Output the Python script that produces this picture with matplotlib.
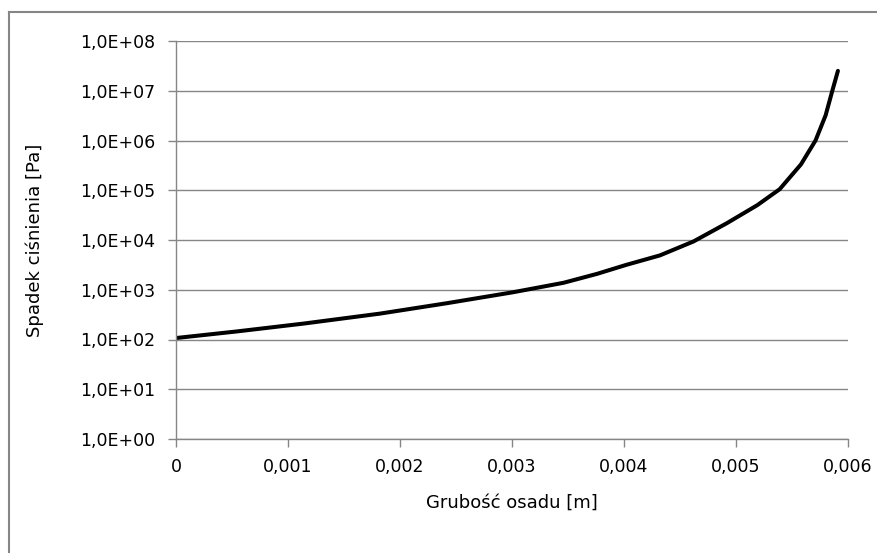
import numpy as np
import matplotlib
matplotlib.use("Agg")
import matplotlib.pyplot as plt
from matplotlib.ticker import FixedLocator, FuncFormatter
from matplotlib.lines import Line2D

plt.rcParams['font.family'] = ['DejaVu Sans']

# data
thickness = [0, 0.00054, 0.00114, 0.00182, 0.00242, 0.00301, 0.00346, 0.00376,
             0.00402, 0.00432, 0.00462, 0.00492, 0.00519, 0.00539, 0.00558,
             0.00571, 0.0058, 0.00586, 0.00591]
pressure_drop = [107, 145, 209, 331, 537, 891, 1380, 2089,
                 3162, 4898, 9333, 21880, 50120, 1.05e5, 3.31e5,
                 1.0e6, 3.2e6, 1.0e7, 2.51e7]

x_ticks = [0, 0.001, 0.002, 0.003, 0.004, 0.005, 0.006]
x_tick_labels = ['0', '0,001', '0,002', '0,003', '0,004', '0,005', '0,006']
y_ticks = [10.0 ** k for k in range(0, 9)]

grey = '#868686'

fig = plt.figure(figsize=(8.77, 5.53), dpi=100)
ax = fig.add_axes([176 / 877, 1 - 439 / 553, 672 / 877, 398 / 553])

ax.plot(thickness, pressure_drop, color='black', linewidth=2.9,
        solid_capstyle='round', solid_joinstyle='round')

ax.set_yscale('log')
ax.set_xlim(0, 0.006)
ax.set_ylim(1, 1e8)

ax.yaxis.set_major_locator(FixedLocator(y_ticks))
ax.yaxis.set_minor_locator(FixedLocator([]))
ax.yaxis.set_major_formatter(FuncFormatter(lambda v, p: '1,0E+%02d' % int(round(np.log10(v)))))
ax.set_xticks(x_ticks)
ax.set_xticklabels(x_tick_labels)

ax.grid(True, axis='y', color=grey, linewidth=1)
ax.set_axisbelow(True)

for side in ['top', 'right']:
    ax.spines[side].set_visible(False)
for side in ['left', 'bottom']:
    ax.spines[side].set_color(grey)
    ax.spines[side].set_linewidth(1)

ax.tick_params(axis='both', direction='out', length=6, width=1, color=grey,
               labelsize=12.5, labelcolor='black')
ax.tick_params(axis='x', pad=8)
ax.tick_params(axis='y', pad=9)

ax.set_xlabel('Grubość osadu [m]', fontsize=13)
ax.set_ylabel('Spadek ciśnienia [Pa]', fontsize=13)
ax.xaxis.set_label_coords(0.5, -0.138)
ax.yaxis.set_label_coords(-0.196, 0.5)

# outer chart frame (only top and left visible in the crop)
fig.add_artist(Line2D([9 / 877, 1], [1 - 12 / 553, 1 - 12 / 553],
                      transform=fig.transFigure, color=grey, linewidth=1.5))
fig.add_artist(Line2D([9 / 877, 9 / 877], [0, 1 - 12 / 553],
                      transform=fig.transFigure, color=grey, linewidth=1.5))

fig.savefig('out.png', dpi=100)
